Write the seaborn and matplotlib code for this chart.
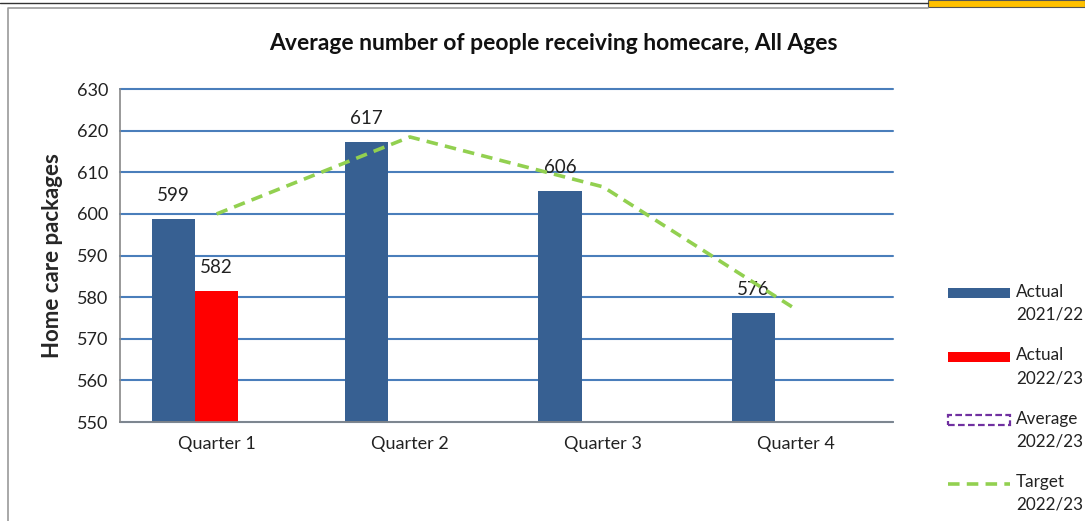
import numpy as np
import pandas as pd
import matplotlib
matplotlib.use("Agg")
import matplotlib.pyplot as plt
import matplotlib.patches as mpatches
import matplotlib.lines as mlines
import seaborn as sns

quarters = ["Quarter 1", "Quarter 2", "Quarter 3", "Quarter 4"]
actual_2122 = [598.8, 617.3, 605.6, 576.3]
actual_2223 = [581.5, np.nan, np.nan, np.nan]
average_2223 = [np.nan, np.nan, np.nan, np.nan]
target_2223 = [600.0, 618.5, 606.5, 577.0]
series = ["Actual 2021/22", "Actual 2022/23", "Average 2022/23"]

sns.set_style("white")
plt.rcParams["font.family"] = ["Lato", "DejaVu Sans"]

df = pd.DataFrame({
    "quarter": quarters * 3,
    "series": [series[0]] * 4 + [series[1]] * 4 + [series[2]] * 4,
    "value": actual_2122 + actual_2223 + average_2223,
})

blue = "#376092"
red = "#FF0000"
green = "#92D050"
purple = "#7030A0"
grid_blue = "#4A7EBB"

fig = plt.figure(figsize=(10.85, 5.21), dpi=100)
ax = fig.add_axes([0.1106, 0.19, 0.7125, 0.639])

sns.barplot(data=df, x="quarter", y="value", hue="series", hue_order=series,
            palette=[blue, red, "white"], saturation=1, width=0.67, ax=ax,
            legend=False, errorbar=None, order=quarters, linewidth=0)

# value labels
for p in ax.patches:
    h = p.get_height()
    if np.isnan(h) or h == 0:
        continue
    ax.annotate(f"{h:.0f}", (p.get_x() + p.get_width() / 2, h),
                xytext=(0, 23), textcoords="offset pixels",
                ha="center", va="center", fontsize=13.5, color="#222222")

# target line at group centres
ax.plot(range(len(quarters)), target_2223, color=green, linestyle=(0, (3.2, 2)),
        linewidth=2.6, zorder=4)

ax.set_ylim(550, 630)
ax.set_yticks(np.arange(550, 631, 10))
ax.set_xlim(-0.5, 3.5)
ax.yaxis.grid(True, color=grid_blue, linewidth=1.5)
for gl in ax.yaxis.get_gridlines():
    gl.set_clip_on(False)
ax.set_axisbelow(True)
ax.set_xlabel("")
ax.set_ylabel("Home care packages", fontsize=16, fontweight="bold", labelpad=10)

for s in ["top", "right"]:
    ax.spines[s].set_visible(False)
for s in ["left", "bottom"]:
    ax.spines[s].set_color("#888888")
    ax.spines[s].set_linewidth(1.2)

ax.set_xticks(np.arange(-0.5, 3.6, 1.0), minor=True)
ax.tick_params(axis="x", which="major", length=0, labelsize=13, pad=10, colors="#222222")
ax.tick_params(axis="x", which="minor", length=5, color="#888888", width=1.2)
ax.tick_params(axis="y", length=5, color="#888888", width=1.2, labelsize=13)
for lbl in ax.get_yticklabels():
    lbl.set_color("#222222")

fig.text(0.51, 0.917, "Average number of people receiving homecare, All Ages",
         ha="center", va="center", fontsize=16.5, fontweight="bold", color="#111111")

# legend drawn by hand so the key sits next to the first line of text
W, H = 1085, 521
entries = [("Actual\n2021/22", "blue"), ("Actual\n2022/23", "red"),
           ("Average\n2022/23", "avg"), ("Target\n2022/23", "target")]
for i, (text, kind) in enumerate(entries):
    yc = 293 + i * 63.5
    x0, x1 = 948, 1010
    if kind in ("blue", "red"):
        fig.add_artist(mpatches.Rectangle((x0 / W, 1 - (yc + 5) / H), (x1 - x0) / W, 10 / H,
                                          transform=fig.transFigure,
                                          facecolor=blue if kind == "blue" else red,
                                          edgecolor="none"))
    elif kind == "avg":
        fig.add_artist(mpatches.Rectangle((x0 / W, 1 - (yc + 5) / H), (x1 - x0) / W, 10 / H,
                                          transform=fig.transFigure, facecolor="none",
                                          edgecolor=purple, linewidth=1.6, linestyle=(0, (3, 1.5))))
    else:
        fig.add_artist(mlines.Line2D([x0 / W, x1 / W], [1 - yc / H, 1 - yc / H],
                                     transform=fig.transFigure, color=green,
                                     linewidth=2.6, linestyle=(0, (3.2, 2))))
    fig.text(1016 / W, 1 - (yc - 9) / H, text, ha="left", va="top",
             fontsize=12.3, color="#222222", linespacing=1.5)

# frame of the embedded chart
fig.add_artist(mlines.Line2D([0, 928 / W], [1 - 3 / H, 1 - 3 / H], transform=fig.transFigure,
                             color="#333333", linewidth=1))
fig.add_artist(mlines.Line2D([8 / W, 8 / W, 928 / W], [0, 1 - 8 / H, 1 - 8 / H],
                             transform=fig.transFigure, color="#999999", linewidth=1.2))
fig.add_artist(mpatches.Rectangle((928 / W, 1 - 7 / H), 157 / W, 7 / H,
                                  transform=fig.transFigure, facecolor="#FFC000",
                                  edgecolor="#555555", linewidth=0.8))

fig.savefig("out.png", dpi=100)
